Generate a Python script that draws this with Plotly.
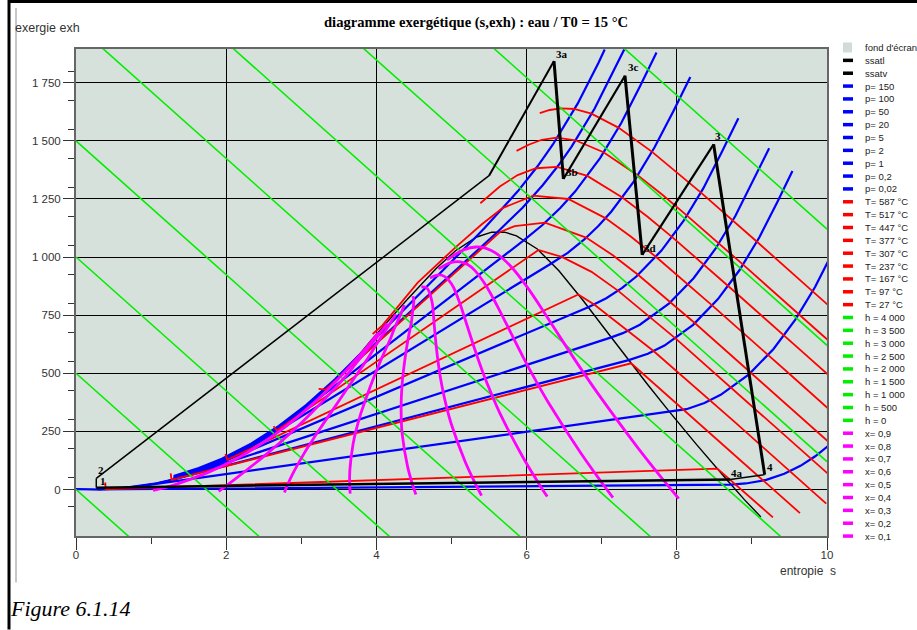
import plotly.graph_objects as go

# ---------------- data ----------------
# saturation curve (entropy s, exergy exh)
SATL_S = [0.0, 0.1511, 0.2965, 0.5724, 0.8312, 1.0754, 1.3069, 1.6346, 1.9426, 2.3305,
          2.7015, 3.0683, 3.2534, 3.448, 3.6601, 3.78, 3.9167, 4.1125, 4.407]
SATL_EX = [1.7, 0.2, 0.2, 4.3, 13.4, 26.8, 44.2, 77.1, 117.4, 182.5,
           260.8, 353.6, 409.0, 470.0, 541.5, 583, 637.3, 708.6, 816]
SATV_S = [4.407, 4.799, 5.0536, 5.2177, 5.3361, 5.5362, 5.7059, 5.8655, 6.1425, 6.4302,
          6.7502, 7.0264, 7.3549, 7.6111, 7.9082, 8.2555, 8.666, 8.8998, 9.12]
SATV_EX = [816, 952, 1027.1, 1062, 1086.4, 1107.0, 1107.2, 1091.4, 1034.7, 940.8,
           814.0, 697.1, 558.0, 451.6, 331.8, 196.4, 42.0, -43.6, -118]

# isobars
P_LABELS = ["p= 150", "p= 100", "p= 50", "p= 20", "p= 5", "p= 2", "p= 1", "p= 0,2", "p= 0,02"]
P_S = [
    [1.30, 1.6346, 1.9426, 2.3305, 2.7015, 3.0683, 3.448, 3.6848, 5.3108, 5.4435, 5.8817, 6.1433, 6.3479, 6.6797, 6.9576, 7.04],
    [1.30, 1.6346, 1.9426, 2.3305, 2.7015, 3.0683, 3.3603, 5.6159, 5.9458, 6.2139, 6.4217, 6.5993, 6.9045, 7.1696, 7.30],
    [1.30, 1.6346, 1.9426, 2.3305, 2.7015, 2.9207, 5.9737, 6.2111, 6.4516, 6.6483, 6.9781, 7.2605, 7.5136, 7.73],
    [1.30, 1.6346, 1.9426, 2.3305, 2.447, 6.339, 6.5475, 6.7684, 6.9583, 7.1292, 7.4337, 7.7043, 7.954, 8.18],
    [1.30, 1.6346, 1.8604, 6.8207, 7.061, 7.2725, 7.4614, 7.7956, 8.0893, 8.3544, 8.5978, 8.82],
    [1.30, 1.5301, 7.1271, 7.281, 7.5081, 7.8941, 8.2236, 8.5153, 8.7793, 9.0221, 9.23],
    [0.5724, 1.0754, 1.3026, 7.3594, 7.6148, 7.8356, 8.2172, 8.5452, 8.8362, 9.0999, 9.3424, 9.54],
    [0.2965, 0.5724, 0.832, 7.9085, 8.128, 8.368, 8.584, 8.961, 9.288, 9.578, 9.841, 10.083],
    [0.0, 0.2606, 8.7227, 8.80, 8.918, 9.191, 9.431, 9.647, 9.843, 10.024],
]
P_EX = [
    [58, 92, 132, 197, 274, 364, 474, 550.4, 1082, 1126.1, 1282.6, 1389.4, 1483.3, 1660, 1836, 1893],
    [53, 87, 127, 192, 269, 360, 441.5, 1109, 1212.4, 1308.7, 1393.7, 1475.2, 1638, 1805.8, 1893],
    [48, 82, 122.4, 187.3, 264.5, 314.6, 1074.6, 1137.7, 1212, 1282.7, 1425.7, 1576.5, 1736.9, 1880],
    [45, 79, 119.5, 184.4, 205.2, 974.6, 1018.3, 1075.6, 1134.4, 1195.8, 1328, 1472.4, 1627.3, 1775],
    [44, 77.5, 105.7, 784.4, 822.9, 867.1, 916.3, 1027.8, 1155.3, 1296.5, 1450.6, 1597],
    [44, 65.5, 654.6, 672.7, 708.9, 799.1, 909.1, 1035.7, 1176.7, 1330.2, 1468],
    [4.4, 26.9, 43.8, 556.6, 584.1, 619.4, 708.4, 818.0, 944.2, 1085.2, 1238.5, 1370],
    [0.2, 4.3, 13.4, 332.6, 345.6, 372.5, 407.2, 495.6, 604.8, 730.8, 871.3, 1025],
    [1.7, 0.0, 21.1, 22.3, 26.0, 41.3, 67.7, 101.9, 142.9, 189.9],
]

# isotherms
T_LABELS = ["T= 587 °C", "T= 517 °C", "T= 447 °C", "T= 377 °C", "T= 307 °C",
            "T= 237 °C", "T= 167 °C", "T= 97 °C", "T= 27 °C"]
T_S = [
    [6.175, 6.308, 6.457, 6.634, 6.863, 7.222, 7.667, 7.994, 8.318, 9.064, 10.127],
    [5.866, 6.027, 6.202, 6.401, 6.649, 7.024, 7.478, 7.808, 8.132, 8.879, 9.943, 10.1],
    [5.384, 5.643, 5.881, 6.125, 6.407, 6.808, 7.275, 7.611, 7.935, 8.684, 9.748, 10.1],
    [3.95, 4.08, 4.55, 5.06, 5.40, 5.68, 6.089, 6.555, 7.049, 7.391, 7.721, 8.470, 9.535, 10.1],
    [3.23, 3.322, 5.649, 5.841, 6.244, 6.793, 7.148, 7.484, 8.239, 9.305, 10.1],
    [2.63, 2.673, 6.158, 6.47, 6.865, 7.216, 7.982, 9.049, 10.1],
    [1.99, 2.012, 6.688, 6.90, 7.69, 8.762, 9.99],
    [1.26, 1.273, 7.392, 8.41, 9.64],
    [0.39, 0.395, 8.54, 9.28],
]
T_EX = [
    [1619.5, 1632.6, 1639.8, 1636.9, 1616.7, 1556.9, 1453.5, 1367.5, 1278.3, 1066.8, 761],
    [1456.6, 1483.2, 1504.5, 1513.8, 1502.4, 1451.1, 1352.4, 1267.7, 1179.3, 968.2, 662.7, 617.5],
    [1231.4, 1303.1, 1352.7, 1382.1, 1387.8, 1348.9, 1256.3, 1173.4, 1086.9, 875.4, 570.5, 469],
    [669, 706, 890, 1044, 1140, 1210.6, 1264.1, 1249.8, 1167.4, 1087.2, 1001.1, 792.3, 487.1, 324],
    [433, 429.5, 1108, 1133.3, 1148.1, 1083.7, 1008.1, 923.8, 716.1, 411.2, 182],
    [272, 254.4, 1030.3, 1000.4, 936.3, 855.7, 650.4, 346.1, 43],
    [153, 127.9, 839.3, 795.5, 596, 292.9, -61],
    [69, 41.3, 543.1, 252.4, -101.5],
    [30, 1.0, 90, -120],
]

# isenthalps (straight lines, exh at s = 0 and at s = 10)
H_LABELS = ["h = 4 000", "h = 3 500", "h = 3 000", "h = 2 500", "h = 2 000",
            "h = 1 500", "h = 1 000", "h = 500", "h = 0"]
H_S = [0, 10]
H_EX = [[4000, 1120], [3500, 620], [3000, 120], [2500, -380], [2000, -880],
        [1500, -1380], [1000, -1880], [500, -2380], [0, -2880]]

# constant-quality lines
X_LABELS = ["x= 0,9", "x= 0,8", "x= 0,7", "x= 0,6", "x= 0,5", "x= 0,4", "x= 0,3", "x= 0,2", "x= 0,1"]
X_S = [
    [8.025, 7.829, 7.487, 6.958, 6.750, 6.487, 6.269, 6.020, 5.798, 5.586, 5.461, 5.327, 5.169, 4.940],
    [7.150, 6.992, 6.719, 6.304, 6.145, 5.948, 5.789, 5.610, 5.454, 5.306, 5.215, 5.119, 5.001, 4.826],
    [6.275, 6.155, 5.951, 5.650, 5.541, 5.409, 5.308, 5.200, 5.110, 5.026, 4.970, 4.910, 4.833, 4.713],
    [5.400, 5.318, 5.182, 4.997, 4.936, 4.870, 4.827, 4.790, 4.766, 4.747, 4.725, 4.701, 4.666, 4.599],
    [4.526, 4.481, 4.414, 4.343, 4.331, 4.331, 4.346, 4.380, 4.422, 4.467, 4.480, 4.492, 4.498, 4.485],
    [3.651, 3.644, 3.646, 3.690, 3.726, 3.791, 3.866, 3.970, 4.078, 4.187, 4.234, 4.283, 4.331, 4.372],
    [2.776, 2.807, 2.877, 3.036, 3.121, 3.252, 3.385, 3.560, 3.734, 3.908, 3.989, 4.075, 4.163, 4.258],
    [1.901, 1.970, 2.109, 2.383, 2.517, 2.713, 2.904, 3.150, 3.390, 3.628, 3.744, 3.866, 3.995, 4.144],
    [1.026, 1.134, 1.341, 1.729, 1.912, 2.174, 2.423, 2.741, 3.046, 3.348, 3.499, 3.657, 3.828, 4.030],
]
X_EX = [
    [-39.2, 37.8, 177.2, 409.1, 506.6, 635.1, 744.3, 865.0, 957.3, 1017.6, 1037.4, 1043.3, 1031.9, 988.1],
    [-34.8, 33.6, 158.0, 366.6, 455.2, 573.1, 674.7, 789.1, 879.9, 943.8, 967.6, 979.6, 977.4, 949.1],
    [-30.5, 29.5, 138.8, 324.2, 403.9, 511.1, 605.0, 713.3, 802.5, 870.1, 897.7, 915.9, 922.9, 910.2],
    [-26.1, 25.3, 119.6, 281.7, 352.5, 449.1, 535.4, 637.5, 725.1, 796.3, 827.9, 852.2, 868.4, 871.2],
    [-21.7, 21.1, 100.4, 239.2, 301.1, 387.1, 465.7, 561.7, 647.8, 722.5, 758.1, 788.5, 814.0, 832.2],
    [-17.3, 16.9, 81.1, 196.7, 249.7, 325.1, 396.0, 485.8, 570.4, 648.7, 688.3, 724.8, 759.5, 793.2],
    [-12.9, 12.7, 61.9, 154.2, 198.3, 263.1, 326.4, 410.0, 493.0, 574.9, 618.5, 661.1, 705.0, 754.2],
    [-8.6, 8.6, 42.7, 111.8, 147.0, 201.1, 256.7, 334.2, 415.6, 501.2, 548.6, 597.4, 650.5, 715.3],
    [-4.2, 4.4, 23.5, 69.3, 95.6, 139.1, 187.1, 258.3, 338.2, 427.4, 478.8, 533.7, 596.0, 676.3],
]

# cycle 1-2-...-4a-1
CYCLE_S = [0.27, 0.27, 5.50, 6.365, 6.49, 7.31, 7.54, 8.49, 9.17, 8.71, 0.27]
CYCLE_EX = [8, 48, 1350, 1843, 1336, 1780, 1009, 1485, 64, 43, 8]
CYCLE_LABELS = ["1", "2", "3a", "3b", "3c", "3d", "3", "4", "4a"]
CYCLE_LABEL_S = [0.36, 0.33, 6.47, 6.60, 7.42, 7.64, 8.55, 9.24, 8.80]
CYCLE_LABEL_EX = [38, 82, 1873, 1366, 1817, 1040, 1521, 95, 73]

# ---------------- styling ----------------
W, H = 917, 630
ML, MR, MT, MB = 76, 90, 49, 93.5
PW = W - ML - MR
PH = H - MT - MB
BG = "#d7e1db"
BLUE, RED, GREEN, MAG = "#0000ff", "#ff0000", "#00ee00", "#ff00ff"
SANS = "Liberation Sans"
SERIF = "Liberation Serif"


def px(x):
    return (x - ML) / PW


def py(y):
    return (H - MB - y) / PH


fig = go.Figure()


def add_line(xs, ys, color, width, shape="linear"):
    fig.add_trace(go.Scatter(x=xs, y=ys, mode="lines", showlegend=False, hoverinfo="skip",
                             line=dict(color=color, width=width, shape=shape)))


add_line(SATL_S, SATL_EX, "black", 1.4)
add_line(SATV_S, SATV_EX, "black", 1.4)
for s, e in zip(P_S, P_EX):
    add_line(s, e, BLUE, 2.2)
for s, e in zip(T_S, T_EX):
    add_line(s, e, RED, 1.8)
for e in H_EX:
    add_line(H_S, e, GREEN, 1.6)
for s, e in zip(X_S, X_EX):
    add_line(s, e, MAG, 2.8, "spline")

seg_w = [1.5, 1.5, 2.0, 3.0, 2.2, 3.0, 2.2, 3.0, 1.5, 2.5]
for i, w in enumerate(seg_w):
    add_line(CYCLE_S[i:i + 2], CYCLE_EX[i:i + 2], "black", w)

annotations = []
for lab, s, e in zip(CYCLE_LABELS, CYCLE_LABEL_S, CYCLE_LABEL_EX):
    annotations.append(dict(x=s, y=e, xref="x", yref="y", text="<b>%s</b>" % lab, showarrow=False,
                            font=dict(family=SERIF, size=11, color="black")))

# texts around the chart
annotations += [
    dict(x=px(476), y=py(22), xref="paper", yref="paper", showarrow=False,
         text="<b>diagramme exergétique (s,exh) : eau / T0 = 15 °C</b>",
         font=dict(family=SERIF, size=14.6, color="black"), xanchor="center", yanchor="middle"),
    dict(x=px(13), y=py(28), xref="paper", yref="paper", showarrow=False, text="exergie exh",
         font=dict(family=SANS, size=12.5, color="#333"), xanchor="left", yanchor="middle"),
    dict(x=px(778), y=py(572), xref="paper", yref="paper", showarrow=False, text="entropie  s",
         font=dict(family=SANS, size=12, color="#333"), xanchor="left", yanchor="middle"),
    dict(x=px(8), y=py(609), xref="paper", yref="paper", showarrow=False, text="<i>Figure 6.1.14</i>",
         font=dict(family=SERIF, size=22, color="black"), xanchor="left", yanchor="middle"),
]

shapes = [
    dict(type="line", xref="paper", yref="paper", x0=px(9), x1=px(9), y0=py(0), y1=py(630),
         line=dict(color="black", width=3)),
    dict(type="line", xref="paper", yref="paper", x0=px(8), x1=px(917), y0=py(1.5), y1=py(1.5),
         line=dict(color="black", width=3)),
    dict(type="line", xref="paper", yref="paper", x0=px(16), x1=px(16), y0=py(8), y1=py(583),
         line=dict(color="#c8c8c8", width=2)),
]

# manual legend
legend_items = [("fond d'écran", None), ("ssatl", "black"), ("ssatv", "black")]
legend_items += [(l, BLUE) for l in P_LABELS]
legend_items += [(l, RED) for l in T_LABELS]
legend_items += [(l, GREEN) for l in H_LABELS]
legend_items += [(l, MAG) for l in X_LABELS]
for i, (lab, col) in enumerate(legend_items):
    yc = 47.5 + i * 12.87
    if col is None:
        shapes.append(dict(type="rect", xref="paper", yref="paper", x0=px(843), x1=px(852),
                           y0=py(yc - 5), y1=py(yc + 5), fillcolor="#d2dcd6", line=dict(width=0)))
    else:
        shapes.append(dict(type="line", xref="paper", yref="paper", x0=px(843), x1=px(853),
                           y0=py(yc), y1=py(yc), line=dict(color=col, width=3.5)))
    annotations.append(dict(x=px(863), y=py(yc), xref="paper", yref="paper", text=lab,
                            showarrow=False, xanchor="left", yanchor="middle",
                            font=dict(family=SANS, size=9.5, color="#222")))

Y_TICKS = [0, 250, 500, 750, 1000, 1250, 1500, 1750]
Y_TEXT = ["0", "250", "500", "750", "1 000", "1 250", "1 500", "1 750"]
Y_MINOR = [-75, 50, 175, 300, 425, 550, 675, 800, 925, 1050, 1175, 1300, 1425, 1550, 1675, 1800]
X_TICKS = [0, 2, 4, 6, 8, 10]
X_MINOR = [1, 3, 5, 7, 9]

fig.update_layout(
    template="none",
    width=W, height=H,
    margin=dict(l=ML, r=MR, t=MT, b=MB, pad=0),
    paper_bgcolor="white", plot_bgcolor=BG,
    showlegend=False, hovermode=False,
    annotations=annotations, shapes=shapes,
    xaxis=dict(range=[0, 10], tickvals=X_TICKS, ticktext=[str(v) for v in X_TICKS],
               ticks="outside", ticklen=12, tickcolor="#333", tickwidth=1, ticklabelstandoff=-5,
               showgrid=True, gridcolor="black", gridwidth=1, zeroline=False,
               showline=True, linecolor="#666", linewidth=2, mirror=True, automargin=False,
               tickfont=dict(family=SANS, size=11.5, color="#333"),
               minor=dict(tickvals=X_MINOR, ticks="outside", ticklen=6, tickcolor="#333", showgrid=False)),
    yaxis=dict(range=[-200, 1895], tickvals=Y_TICKS, ticktext=Y_TEXT,
               ticks="outside", ticklen=11, tickcolor="#333", tickwidth=1,
               showgrid=True, gridcolor="black", gridwidth=1, zeroline=False,
               showline=True, linecolor="#666", linewidth=2, mirror=True, automargin=False,
               tickfont=dict(family=SANS, size=11.5, color="#333"),
               minor=dict(tickvals=Y_MINOR, ticks="outside", ticklen=6, tickcolor="#333", showgrid=False)),
)

# remove the default 8px page margin so the figure sits at the window's top-left corner
fig.write_html("out.html", config={"displayModeBar": False},
               post_script="document.body.style.margin='0px';")
